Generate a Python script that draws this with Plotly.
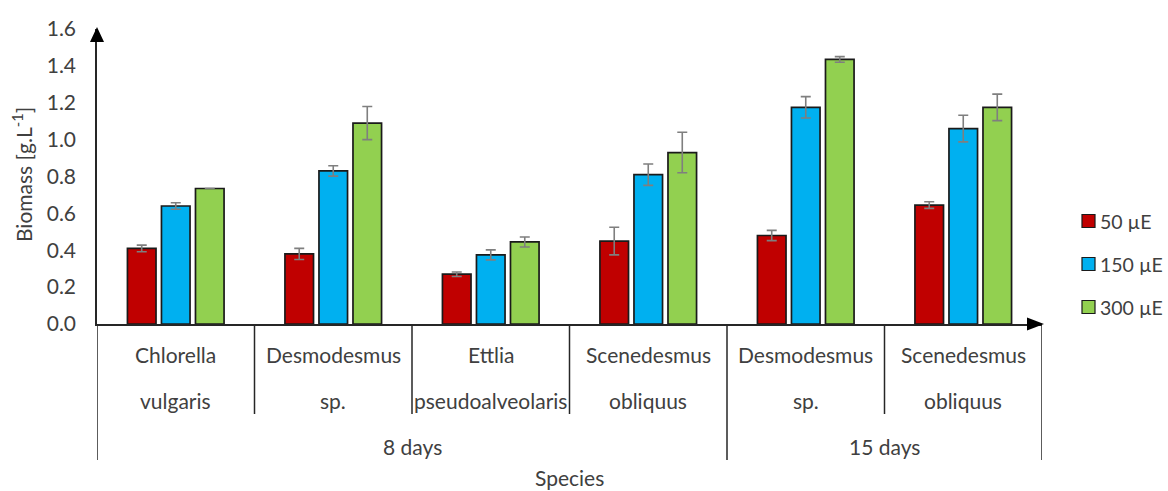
import plotly.graph_objects as go

# ---- data -------------------------------------------------------------
species_line1 = ["Chlorella", "Desmodesmus", "Ettlia", "Scenedesmus", "Desmodesmus", "Scenedesmus"]
species_line2 = ["vulgaris", "sp.", "pseudoalveolaris", "obliquus", "sp.", "obliquus"]
period_labels = ["8 days", "15 days"]
period_sizes = [4, 2]

series_names = ["50 µE", "150 µE", "300 µE"]
biomass_50 = [0.41, 0.38, 0.27, 0.45, 0.48, 0.645]
err_50 = [0.018, 0.03, 0.012, 0.075, 0.028, 0.018]
biomass_150 = [0.64, 0.83, 0.375, 0.81, 1.175, 1.06]
err_150 = [0.018, 0.028, 0.027, 0.058, 0.058, 0.072]
biomass_300 = [0.735, 1.09, 0.445, 0.93, 1.435, 1.175]
err_300 = [0.0, 0.09, 0.027, 0.11, 0.015, 0.072]

y_ticks = [0.0, 0.2, 0.4, 0.6, 0.8, 1.0, 1.2, 1.4, 1.6]

# ---- styling ------------------------------------------------------------
colors = ["#C00000", "#00B0F0", "#92D050"]
TEXT = "#404040"
AXIS = "#262626"
FONT = "Lato"
FS = 21

W, H = 1168, 491
ML, MR, MT, MB = 97, 126, 29, 167
PW, PH = W - ML - MR, H - MT - MB


def px(xp):
    return (xp - ML) / PW


def py(yp):
    return (H - MB - yp) / PH


x_pos = list(range(len(species_line1)))
values = [biomass_50, biomass_150, biomass_300]
errors = [err_50, err_150, err_300]

fig = go.Figure()
for name, vals, errs, col in zip(series_names, values, errors, colors):
    fig.add_trace(go.Bar(
        x=x_pos, y=vals, name=name, showlegend=False,
        marker=dict(color=col, line=dict(color="#1a1a1a", width=1.7)),
        error_y=dict(type="data", array=errs, visible=True,
                     color="#7f7f7f", thickness=1.6, width=5),
    ))

shapes = []
annotations = []

# category separators below the axis
n = len(species_line1)
outer = {0}
acc = 0
for s in period_sizes:
    acc += s
    outer.add(acc)
for k in range(n + 1):
    bottom = 460 if k in outer else 414
    shapes.append(dict(type="line", xref="x", yref="paper",
                       x0=k - 0.5, x1=k - 0.5, y0=0, y1=py(bottom),
                       line=dict(color=AXIS, width=1.5)))

# arrow heads on both axes
shapes.append(dict(type="path", xref="paper", yref="paper",
                   path=f"M {px(97)},{py(27)} L {px(90)},{py(42)} L {px(104)},{py(42)} Z",
                   fillcolor="#000000", line=dict(width=0)))
shapes.append(dict(type="path", xref="paper", yref="paper",
                   path=f"M {px(1044)},{py(324)} L {px(1027)},{py(317.5)} L {px(1027)},{py(330.5)} Z",
                   fillcolor="#000000", line=dict(width=0)))

# species labels (two lines)
for i, (a, b) in enumerate(zip(species_line1, species_line2)):
    annotations.append(dict(x=i, y=py(355), xref="x", yref="paper", text=a,
                            showarrow=False, xanchor="center", yanchor="middle"))
    annotations.append(dict(x=i, y=py(400), xref="x", yref="paper", text=b,
                            showarrow=False, xanchor="center", yanchor="middle"))

# period labels
start = 0
for lab, s in zip(period_labels, period_sizes):
    center = start + (s - 1) / 2
    annotations.append(dict(x=center, y=py(447), xref="x", yref="paper", text=lab,
                            showarrow=False, xanchor="center", yanchor="middle"))
    start += s

# axis titles
annotations.append(dict(x=0.5, y=py(477), xref="paper", yref="paper", text="Species",
                        showarrow=False, xanchor="center", yanchor="middle"))
annotations.append(dict(x=px(22), y=py(175), xref="paper", yref="paper",
                        text="Biomass [g.L<sup>-1</sup>]", textangle=-90,
                        showarrow=False, xanchor="center", yanchor="middle"))

# legend drawn beside the plot
legend_rows = [221, 264, 307]
for name, col, yr in zip(series_names, colors, legend_rows):
    shapes.append(dict(type="rect", xref="paper", yref="paper",
                       x0=px(1082), x1=px(1095), y0=py(yr - 6.5), y1=py(yr + 6.5),
                       fillcolor=col, line=dict(color="#1a1a1a", width=1.2)))
    annotations.append(dict(x=px(1098), y=py(yr), xref="paper", yref="paper", text=name,
                            font=dict(size=19.5), showarrow=False,
                            xanchor="left", yanchor="middle"))

fig.update_layout(
    width=W, height=H,
    margin=dict(l=ML, r=MR, t=MT, b=MB),
    paper_bgcolor="white", plot_bgcolor="white",
    font=dict(family=FONT, size=FS, color=TEXT),
    barmode="group", bargap=0.352, bargroupgap=0.16,
    shapes=shapes, annotations=annotations,
    xaxis=dict(range=[-0.5, n - 0.5], showticklabels=False, showgrid=False,
               zeroline=False, showline=True, linecolor=AXIS, linewidth=1.5,
               ticks=""),
    yaxis=dict(range=[0, 1.6], tickvals=y_ticks,
               ticktext=[f"{v:.1f}" for v in y_ticks],
               showgrid=False, zeroline=False, showline=True,
               linecolor=AXIS, linewidth=1.5, ticks="", ticklabelstandoff=15),
)

fig.write_html("out.html")
